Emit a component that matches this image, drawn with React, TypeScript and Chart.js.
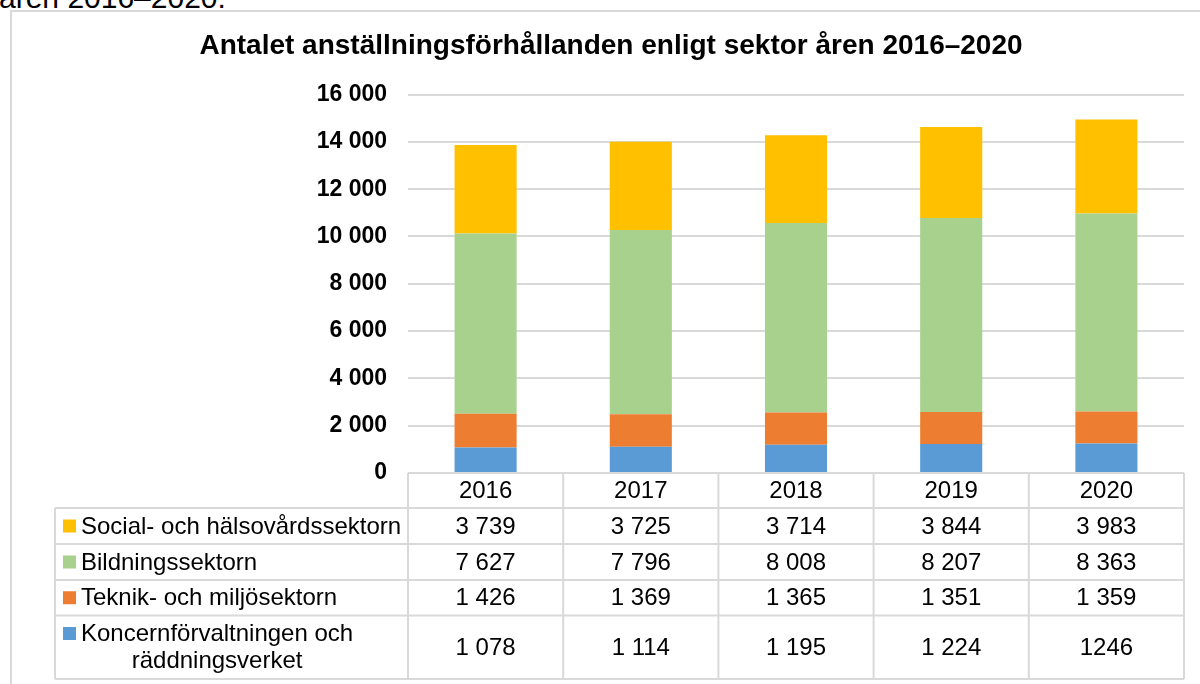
import React, { useEffect, useRef } from "react";
import { Chart, registerables } from "chart.js";

Chart.register(...registerables);

const FONT = "'Liberation Sans', Arial, Helvetica, sans-serif";

const years = ["2016", "2017", "2018", "2019", "2020"];
const koncernValues = [1078, 1114, 1195, 1224, 1246];
const teknikValues = [1426, 1369, 1365, 1351, 1359];
const bildningValues = [7627, 7796, 8008, 8207, 8363];
const socialValues = [3739, 3725, 3714, 3844, 3983];
// the reference table prints the last Koncern value without a space
const koncernLabels = ["1 078", "1 114", "1 195", "1 224", "1246"];

const seriesNames = {
  social: "Social- och hälsovårdssektorn",
  bildning: "Bildningssektorn",
  teknik: "Teknik- och miljösektorn",
  koncern1: "Koncernförvaltningen och",
  koncern2: "räddningsverket",
};
const colors = {
  social: "#FFC000",
  bildning: "#A9D18E",
  teknik: "#ED7D31",
  koncern: "#5B9BD5",
};
const yMax = 16000;
const yStep = 2000;
const titleText = "Antalet anställningsförhållanden enligt sektor åren 2016–2020";
const aboveText = "åren 2016–2020.";

const fmt = (v: number) => String(v).replace(/\B(?=(\d{3})+(?!\d))/g, " ");

const GRID = "#D9D9D9";

const tablePlugin = {
  id: "dataTable",
  beforeDraw(chart: any) {
    const ctx = chart.ctx;
    ctx.save();
    ctx.strokeStyle = GRID;
    ctx.lineWidth = 2;
    ctx.beginPath();
    ctx.moveTo(11, 10);
    ctx.lineTo(11, 700);
    ctx.moveTo(10, 11);
    ctx.lineTo(1210, 11);
    ctx.stroke();
    ctx.restore();
  },
  afterDraw(chart: any) {
    const ctx = chart.ctx;
    const xs = chart.scales.x;
    const area = chart.chartArea;
    const n = years.length;
    const centers = years.map((_, i) => xs.getPixelForTick(i));
    const half = (centers[1] - centers[0]) / 2;
    const bounds = [centers[0] - half, ...centers.map((c) => c + half)];
    const headerTop = area.bottom;
    const headerBottom = xs.bottom;
    const tableLeft = 55;
    const rowHeights = [36, 36, 35.5, 63.5];
    const rowTops: number[] = [headerBottom];
    rowHeights.forEach((h, i) => rowTops.push(rowTops[i] + h));
    const tableBottom = rowTops[rowTops.length - 1];
    const right = bounds[n];

    ctx.save();
    ctx.strokeStyle = GRID;
    ctx.lineWidth = 2;
    ctx.beginPath();
    ctx.moveTo(bounds[0], headerTop);
    ctx.lineTo(right, headerTop);
    bounds.forEach((b) => {
      ctx.moveTo(b, headerTop);
      ctx.lineTo(b, tableBottom);
    });
    ctx.moveTo(tableLeft, headerBottom);
    ctx.lineTo(tableLeft, tableBottom);
    rowTops.forEach((y) => {
      ctx.moveTo(tableLeft, y);
      ctx.lineTo(right, y);
    });
    ctx.stroke();

    ctx.fillStyle = "#000";
    ctx.font = `24px ${FONT}`;
    ctx.textBaseline = "middle";

    const rows = [
      { name: seriesNames.social, color: colors.social, labels: socialValues.map(fmt) },
      { name: seriesNames.bildning, color: colors.bildning, labels: bildningValues.map(fmt) },
      { name: seriesNames.teknik, color: colors.teknik, labels: teknikValues.map(fmt) },
      { name: seriesNames.koncern1, color: colors.koncern, labels: koncernLabels },
    ];
    rows.forEach((r, ri) => {
      const top = rowTops[ri];
      const bottom = rowTops[ri + 1];
      const mid = (top + bottom) / 2;
      const lineY = ri === 3 ? top + 18 : mid;
      ctx.fillStyle = r.color;
      ctx.fillRect(63, lineY - 6.5, 13, 13);
      ctx.fillStyle = "#000";
      ctx.textAlign = "left";
      ctx.fillText(r.name, 81, lineY + 1);
      if (ri === 3) {
        const w = ctx.measureText(r.name).width;
        ctx.textAlign = "center";
        ctx.fillText(seriesNames.koncern2, 81 + w / 2, lineY + 28);
      }
      ctx.textAlign = "center";
      r.labels.forEach((t, i) => ctx.fillText(t, centers[i], mid + 1));
    });
    ctx.restore();
  },
};

export default function App() {
  const ref = useRef<HTMLCanvasElement>(null);
  useEffect(() => {
    if (!ref.current) return;
    Chart.defaults.font.family = FONT;
    const chart = new Chart(ref.current, {
      type: "bar",
      data: {
        labels: years,
        datasets: [
          { label: "Koncernförvaltningen och räddningsverket", data: koncernValues, backgroundColor: colors.koncern },
          { label: seriesNames.teknik, data: teknikValues, backgroundColor: colors.teknik },
          { label: seriesNames.bildning, data: bildningValues, backgroundColor: colors.bildning },
          { label: seriesNames.social, data: socialValues, backgroundColor: colors.social },
        ],
      },
      options: {
        animation: false,
        responsive: false,
        devicePixelRatio: 1,
        layout: { padding: { left: 38, right: 16, top: 0, bottom: 176 } },
        datasets: { bar: { categoryPercentage: 1, barPercentage: 0.4, borderWidth: 0 } },
        plugins: {
          legend: { display: false },
          tooltip: { enabled: false },
          title: {
            display: true,
            text: titleText,
            color: "#000",
            font: { size: 28, weight: "bold", family: FONT },
            padding: { top: 29, bottom: 32 },
          },
        },
        scales: {
          x: {
            stacked: true,
            grid: { display: false, drawTicks: false },
            border: { display: false },
            ticks: { color: "#000", font: { size: 24, family: FONT }, padding: 4, maxRotation: 0 },
            afterFit: (s: any) => {
              s.height = 35;
            },
          },
          y: {
            stacked: true,
            min: 0,
            max: yMax,
            grid: { color: GRID, lineWidth: 2, drawTicks: false },
            border: { display: false },
            ticks: {
              stepSize: yStep,
              color: "#000",
              padding: 21,
              font: { size: 23, weight: "bold", family: FONT },
              callback: (v: any) => fmt(Number(v)),
            },
            afterFit: (s: any) => {
              s.width = 370;
            },
          },
        },
      },
      plugins: [tablePlugin],
    });
    return () => chart.destroy();
  }, []);

  return (
    <div style={{ position: "absolute", left: 0, top: 0, width: 1200, height: 684, overflow: "hidden", background: "#fff" }}>
      <div
        style={{
          position: "absolute",
          left: -1,
          top: -17.5,
          fontFamily: FONT,
          fontSize: 30,
          lineHeight: "30px",
          color: "#000",
          whiteSpace: "nowrap",
        }}
      >
        {aboveText}
      </div>
      <canvas ref={ref} width={1200} height={684} style={{ position: "absolute", left: 0, top: 0, display: "block" }} />
    </div>
  );
}
